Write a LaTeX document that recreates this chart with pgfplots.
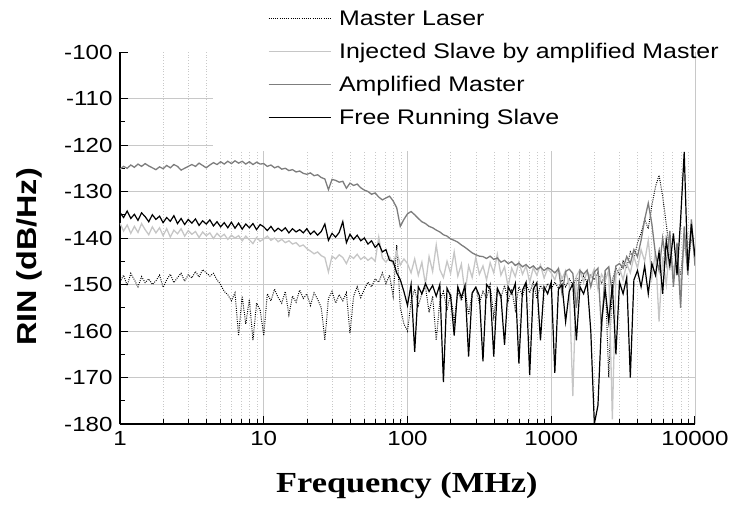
\documentclass[border=0pt]{standalone}
\usepackage{fontspec}
\setmainfont{Liberation Sans}[FakeStretch=1.18]
\newfontfamily\serifbold{Liberation Serif}[FakeStretch=1.18]
\usepackage{pgfplots}
\usepackage{pgfplotstable}
\pgfplotsset{compat=1.18}
\definecolor{isgray}{RGB}{198,198,198}
\definecolor{amgray}{RGB}{125,125,125}
\definecolor{gridgray}{RGB}{200,200,200}

\pgfplotstableread{
f ml is am frs
1.000 -149.5 -136.8 -125.2 -134.5
1.059 -148.0 -138.5 -124.6 -135.6
1.122 -150.2 -137.2 -125.0 -134.2
1.189 -147.6 -139.0 -124.3 -135.8
1.259 -149.0 -137.5 -124.8 -134.9
1.334 -150.5 -138.8 -124.1 -136.2
1.413 -148.3 -136.9 -124.6 -134.6
1.496 -149.6 -138.2 -124.0 -135.4
1.585 -148.8 -139.3 -124.5 -136.5
1.679 -150.0 -137.6 -124.9 -135.0
1.778 -149.2 -138.9 -125.3 -136.0
1.884 -148.0 -137.8 -124.7 -135.3
1.995 -150.6 -139.5 -125.1 -136.7
2.113 -149.0 -138.0 -124.4 -135.6
2.239 -147.8 -139.8 -124.9 -136.4
2.371 -149.6 -138.3 -124.2 -135.2
2.512 -148.5 -139.1 -124.6 -136.9
2.661 -147.6 -138.0 -125.4 -135.8
2.818 -149.3 -139.6 -125.0 -137.1
2.985 -147.9 -138.4 -124.6 -136.0
3.162 -148.6 -139.2 -124.2 -136.8
3.350 -147.2 -138.6 -124.6 -135.9
3.548 -148.4 -139.9 -123.9 -137.3
3.758 -146.8 -138.7 -124.4 -136.3
3.981 -147.5 -139.5 -124.9 -137.0
4.217 -148.2 -138.9 -124.3 -136.1
4.467 -147.6 -140.1 -123.8 -137.4
4.732 -149.0 -139.0 -124.2 -136.5
5.012 -150.0 -139.8 -123.6 -137.6
5.309 -151.5 -139.2 -124.1 -136.7
5.623 -152.2 -140.3 -123.5 -137.8
5.957 -153.5 -139.4 -124.0 -136.6
6.310 -151.8 -140.0 -123.4 -137.9
6.683 -161.0 -139.5 -123.9 -136.8
7.079 -152.5 -140.6 -123.5 -138.1
7.499 -158.5 -139.6 -124.1 -137.0
7.943 -153.2 -140.4 -123.6 -137.8
8.414 -162.0 -141.2 -124.2 -136.9
8.913 -154.0 -139.9 -123.7 -138.2
9.441 -155.5 -140.7 -124.1 -137.1
10.00 -161.0 -140.2 -124.0 -137.6
10.59 -152.0 -139.6 -124.6 -138.4
11.22 -153.5 -140.5 -124.3 -137.5
11.89 -151.0 -140.0 -124.9 -138.6
12.59 -152.8 -140.8 -124.6 -137.9
13.34 -154.0 -140.3 -125.2 -138.5
14.13 -151.5 -141.0 -125.0 -137.8
14.96 -156.5 -140.6 -125.5 -138.9
15.85 -152.5 -141.3 -125.3 -138.0
16.79 -153.8 -141.0 -125.8 -138.7
17.78 -151.2 -141.8 -125.6 -138.2
18.84 -153.0 -141.5 -126.1 -138.9
19.95 -152.0 -142.3 -126.3 -138.0
21.13 -154.5 -142.8 -126.0 -139.2
22.39 -151.8 -143.4 -126.6 -138.5
23.71 -153.2 -143.0 -126.4 -139.4
25.12 -155.0 -143.8 -127.0 -138.6
26.61 -162.0 -144.2 -127.3 -137.0
28.18 -153.0 -147.3 -129.6 -140.5
29.85 -151.5 -143.9 -127.4 -139.0
31.62 -154.0 -144.5 -127.6 -139.8
33.50 -152.2 -143.6 -128.0 -138.8
35.48 -153.5 -144.2 -127.8 -136.5
37.58 -151.8 -145.5 -129.3 -141.0
39.81 -160.5 -143.8 -128.2 -139.2
42.17 -152.5 -144.4 -128.7 -140.3
44.67 -150.5 -143.5 -128.4 -139.4
47.32 -152.8 -144.6 -129.2 -140.6
50.12 -151.0 -144.0 -129.7 -140.0
53.09 -149.5 -144.8 -130.0 -141.3
56.23 -150.5 -144.2 -130.6 -140.6
59.57 -148.8 -145.0 -130.3 -142.0
63.10 -149.5 -139.8 -131.2 -141.2
66.83 -147.5 -144.3 -131.8 -143.0
70.79 -149.8 -145.2 -131.4 -142.5
74.99 -148.0 -144.0 -131.0 -144.8
79.43 -152.5 -145.6 -132.0 -145.0
84.14 -141.5 -143.0 -133.5 -147.5
89.13 -155.0 -145.8 -137.5 -149.0
94.41 -158.5 -144.5 -136.0 -151.5
100.0 -160.0 -145.5 -134.8 -154.5
105.9 -153.5 -147.5 -134.3 -150.0
112.2 -151.0 -144.5 -135.0 -164.5
118.9 -154.5 -148.0 -135.8 -150.5
125.9 -152.0 -145.2 -136.5 -152.0
133.4 -150.5 -150.0 -136.9 -149.8
141.3 -156.0 -144.0 -137.5 -151.5
149.6 -152.5 -147.2 -137.8 -150.2
158.5 -162.0 -141.5 -138.3 -152.5
167.9 -153.5 -146.8 -138.7 -150.0
177.8 -151.5 -148.5 -139.3 -171.0
188.4 -155.5 -145.0 -139.6 -150.8
199.5 -152.0 -147.6 -140.2 -152.5
211.3 -158.0 -143.0 -140.5 -161.0
223.9 -151.5 -148.2 -140.9 -150.5
237.1 -153.5 -145.6 -141.5 -152.8
251.2 -150.8 -152.0 -142.0 -150.2
266.1 -156.5 -146.0 -142.6 -165.5
281.8 -152.0 -148.5 -143.2 -151.8
298.5 -150.5 -144.2 -143.6 -150.6
316.2 -154.0 -147.8 -143.9 -152.4
335.0 -151.5 -146.0 -144.0 -166.5
354.8 -153.0 -149.0 -144.4 -150.0
375.8 -150.0 -145.3 -143.9 -151.0
398.1 -157.0 -147.5 -144.6 -165.5
421.7 -151.2 -143.5 -144.3 -150.8
446.7 -152.8 -148.0 -145.2 -152.5
473.2 -150.2 -146.2 -144.8 -163.0
501.2 -153.5 -150.5 -145.5 -150.5
530.9 -151.0 -146.5 -145.1 -152.0
562.3 -155.5 -148.3 -145.9 -149.8
595.7 -150.5 -145.2 -145.4 -167.0
631.0 -152.5 -147.8 -146.2 -151.2
668.3 -149.8 -146.0 -145.7 -149.5
707.9 -151.8 -149.5 -146.5 -169.5
749.9 -149.5 -146.4 -146.0 -151.0
794.3 -153.0 -148.0 -146.8 -149.6
841.4 -150.2 -145.8 -146.2 -162.0
891.3 -151.5 -148.6 -147.0 -150.5
944.1 -149.8 -146.6 -146.4 -152.0
1000 -151.0 -147.5 -146.8 -149.5
1059 -149.5 -149.0 -147.5 -169.0
1122 -150.8 -146.5 -146.6 -151.0
1189 -149.0 -148.8 -152.0 -150.0
1259 -150.5 -147.0 -147.2 -158.0
1334 -148.8 -150.0 -146.7 -151.5
1413 -150.2 -174.0 -147.6 -149.8
1496 -148.5 -148.2 -155.0 -162.0
1585 -150.0 -146.8 -147.0 -150.5
1679 -148.2 -149.5 -147.8 -152.0
1778 -149.5 -147.2 -146.9 -149.5
1884 -148.0 -148.5 -150.5 -160.0
1995 -149.0 -146.6 -147.3 -180.0
2113 -147.5 -151.0 -146.5 -176.0
2239 -149.8 -147.8 -160.0 -158.0
2371 -147.8 -149.2 -147.0 -151.0
2512 -170.0 -146.9 -146.2 -158.0
2661 -149.0 -179.0 -152.0 -150.0
2818 -146.5 -148.0 -146.0 -165.0
2985 -148.0 -146.5 -145.5 -149.5
3162 -145.0 -149.0 -146.5 -152.0
3350 -146.5 -145.5 -144.0 -148.5
3548 -143.0 -147.5 -145.5 -170.0
3758 -144.5 -144.0 -142.5 -149.0
3981 -141.0 -146.5 -144.0 -147.0
4217 -139.0 -142.5 -140.5 -150.5
4467 -136.0 -145.0 -136.0 -146.0
4732 -138.0 -140.5 -132.5 -152.0
5012 -133.0 -148.5 -137.0 -145.5
5309 -129.0 -143.0 -143.5 -148.0
5623 -126.5 -158.0 -147.0 -143.0
5957 -131.0 -144.0 -140.0 -152.0
6310 -137.0 -150.0 -145.5 -140.5
6683 -143.5 -141.5 -138.5 -146.0
7079 -146.5 -147.5 -150.5 -139.0
7499 -145.0 -143.0 -141.0 -148.0
7943 -148.0 -151.0 -155.0 -136.0
8414 -141.0 -140.0 -137.5 -121.5
8913 -146.0 -146.5 -148.0 -147.0
9441 -140.0 -138.5 -136.0 -137.0
10000 -143.0 -145.0 -146.0 -144.0
}\rin

\begin{document}
\begin{tikzpicture}
\useasboundingbox (-120bp,-82bp) rectangle (611bp,424bp);
\begin{axis}[
  at={(0,0)}, anchor=south west,
  scale only axis, width=575bp, height=372bp,
  xmode=log, xmin=1, xmax=10000, ymin=-180, ymax=-100,
  axis x line*=bottom, axis y line*=left,
  axis line style={line width=1.5bp, black},
  xtick={1,10,100,1000,10000},
  xticklabels={1,10,100,1000,10000},
  ytick={-180,-170,-160,-150,-140,-130,-120,-110},
  yticklabels={-180,-170,-160,-150,-140,-130,-120,-110},
  extra y ticks={-100}, extra y tick labels={-100},
  extra y tick style={grid=none},
  minor y tick num=1,
  tick align=inside,
  major tick length=8bp, minor tick length=5bp,
  tick style={black, line width=1bp},
  tick label style={font=\fontsize{20.5}{24}\selectfont},
  yticklabel style={xshift=-4bp},
  xticklabel style={yshift=-4bp},
  xmajorgrids, ymajorgrids, xminorgrids,
  major grid style={gridgray, line width=0.9bp, solid},
  minor grid style={gridgray, line width=0.8bp, dotted},
  xlabel={\serifbold\bfseries\fontsize{29.2}{35}\selectfont Frequency (MHz)},
  xlabel style={at={(axis description cs:0.499,-0.183)}, anchor=base},
  ylabel={\bfseries\fontsize{27.5}{32}\selectfont RIN (dB/Hz)},
  ylabel style={at={(axis description cs:-0.157,0.449)}, anchor=center},
  legend cell align=left,
  legend image code/.code={\draw[#1, line width=0.9bp] (0bp,0bp) -- (62bp,0bp);},
  legend style={at={(0.2574,1.117)}, anchor=north west, draw=none, fill=none,
    inner sep=0pt, row sep=14bp, column sep=8bp,
    nodes={inner sep=0pt, text height=16.5bp, text depth=2.5bp},
    font=\fontsize{21.2}{25}\selectfont},
]
\fill[white] (rel axis cs:0.1617,0.734) rectangle (rel axis cs:1,1);
\addplot[black, line width=1bp, dash pattern=on 0.9bp off 1.3bp] table[x=f,y=ml] {\rin};
\addlegendentry{Master Laser}
\addplot[isgray, line width=1.3bp] table[x=f,y=is] {\rin};
\addlegendentry{Injected Slave by amplified Master}
\addplot[amgray, line width=1.3bp] table[x=f,y=am] {\rin};
\addlegendentry{Amplified Master}
\addplot[black, line width=1.2bp] table[x=f,y=frs] {\rin};
\addlegendentry{Free Running Slave}
\end{axis}
\end{tikzpicture}
\end{document}
